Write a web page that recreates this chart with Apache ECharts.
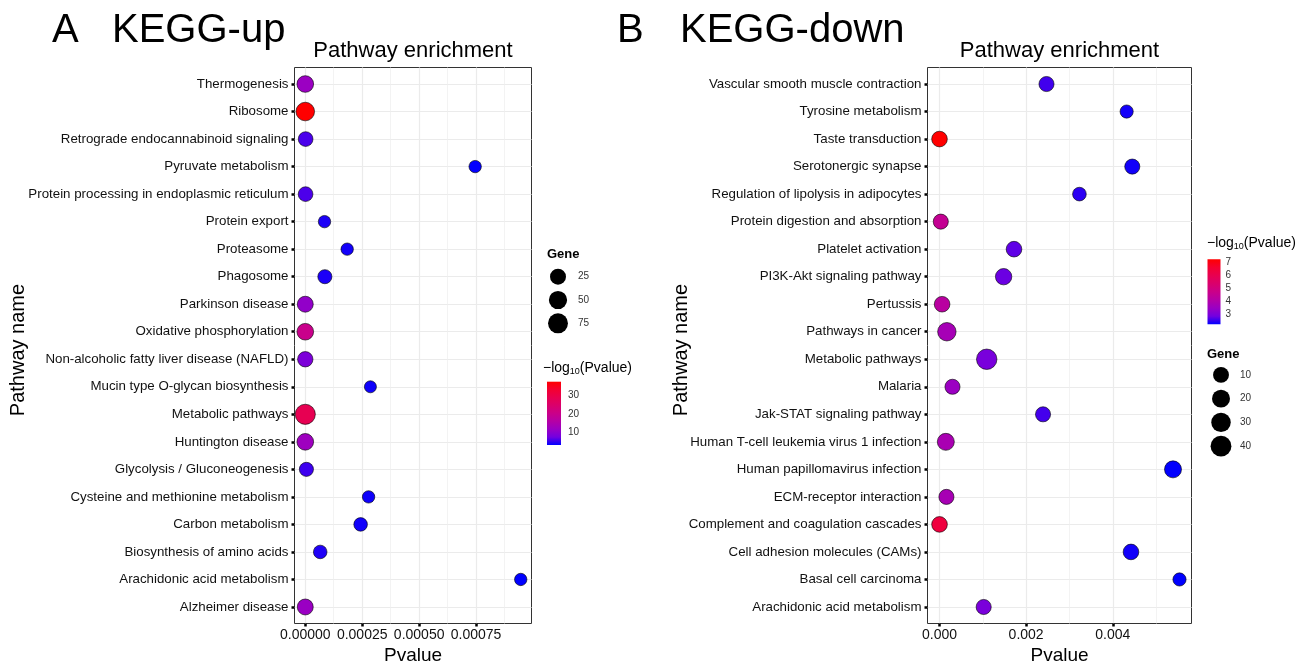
<!DOCTYPE html>
<html><head><meta charset="utf-8">
<script src="https://cdn.jsdelivr.net/npm/echarts@6/dist/echarts.min.js"></script>
<style>html,body{margin:0;padding:0;background:#fff}#c{width:1305px;height:664px}</style>
</head><body><div id="c"></div><script>
// ---------- data ----------
const upPathways = ['Thermogenesis','Ribosome','Retrograde endocannabinoid signaling','Pyruvate metabolism','Protein processing in endoplasmic reticulum','Protein export','Proteasome','Phagosome','Parkinson disease','Oxidative phosphorylation','Non-alcoholic fatty liver disease (NAFLD)','Mucin type O-glycan biosynthesis','Metabolic pathways','Huntington disease','Glycolysis / Gluconeogenesis','Cysteine and methionine metabolism','Carbon metabolism','Biosynthesis of amino acids','Arachidonic acid metabolism','Alzheimer disease'];
const upPvalue = [1.6e-12, 3.2e-38, 1.6e-6, 0.000746, 1.3e-6, 0.0000845, 0.000184, 0.000086, 1.6e-11, 1e-20, 5e-9, 0.000286, 3.2e-29, 6e-13, 5e-6, 0.000278, 0.000243, 0.0000656, 0.000946, 2.5e-12];
const upGene = [32, 55, 15, 3, 15, 3, 3, 11, 25, 32, 20, 2, 78, 32, 11, 3, 8, 8, 3, 25];

const downPathways = ['Vascular smooth muscle contraction','Tyrosine metabolism','Taste transduction','Serotonergic synapse','Regulation of lipolysis in adipocytes','Protein digestion and absorption','Platelet activation','PI3K-Akt signaling pathway','Pertussis','Pathways in cancer','Metabolic pathways','Malaria','Jak-STAT signaling pathway','Human T-cell leukemia virus 1 infection','Human papillomavirus infection','ECM-receptor interaction','Complement and coagulation cascades','Cell adhesion molecules (CAMs)','Basal cell carcinoma','Arachidonic acid metabolism'];
const downPvalue = [0.00247, 0.00432, 6.3e-8, 0.00445, 0.00323, 0.00003, 0.00172, 0.00148, 0.00006, 0.00017, 0.00109, 0.0003, 0.00239, 0.000146, 0.00539, 0.00016, 5e-7, 0.00442, 0.00554, 0.00102];
const downGene = [7, 2, 9, 7, 3, 7, 9, 12, 9, 23, 37, 7, 7, 15, 15, 7, 9, 9, 2, 7];

const upXTicks = [0, 0.00025, 0.0005, 0.00075];
const upXTickLabels = ['0.00000', '0.00025', '0.00050', '0.00075'];
const upXMinor = [0.000125, 0.000375, 0.000625, 0.000875];
const downXTicks = [0, 0.002, 0.004];
const downXTickLabels = ['0.000', '0.002', '0.004'];
const downXMinor = [0.001, 0.003, 0.005];
const upGeneLegend = [25, 50, 75];
const downGeneLegend = [10, 20, 30, 40];
const upColorTicks = [10, 20, 30];
const downColorTicks = [3, 4, 5, 6, 7];

// ---------- styling helpers ----------
const FONT = 'Liberation Sans';
const colorStops = ['#0000FF','#7300E0','#9A00C3','#B500A5','#CA0089','#DA006C','#E80050','#F40031','#FF0000'];
const sizeUp = g => 10.5 + 1.09 * Math.sqrt(g);
const sizeDown = g => 11 + 1.55 * Math.sqrt(g);
const nlp = p => -Math.log10(p);

function xRange(vals) {
  const mn = Math.min(...vals), mx = Math.max(...vals), s = mx - mn;
  return [mn - 0.05 * s, mx + 0.05 * s];
}
function nearestLabel(ticks, labels, v) {
  let bi = 0, bd = Infinity;
  ticks.forEach((t, i) => { const d = Math.abs(t - v); if (d < bd) { bd = d; bi = i; } });
  return labels[bi];
}
const upLog = upPvalue.map(nlp), downLog = downPvalue.map(nlp);
const upCMin = Math.min(...upLog), upCMax = Math.max(...upLog);
const downCMin = Math.min(...downLog), downCMax = Math.max(...downLog);
const upX = xRange(upPvalue), downX = xRange(downPvalue);

const gridLine = { show: true, lineStyle: { color: '#EBEBEB', width: 1.2 } };
const minorLine = { show: true, lineStyle: { color: '#EEEEEE', width: 0.7 } };
const tickStyle = { color: '#000', width: 2.5 };
const noLine = { show: false, onZero: false };

function mainX(grid, rng, ticks, labels) {
  return { gridIndex: grid, type: 'value', min: rng[0], max: rng[1], position: 'bottom',
    axisLine: noLine,
    axisTick: { show: true, length: 3, lineStyle: tickStyle, customValues: ticks },
    axisLabel: { customValues: ticks, formatter: v => nearestLabel(ticks, labels, v), fontSize: 14, color: '#111', margin: 5, fontFamily: FONT },
    splitLine: gridLine,
    name: 'Pvalue', nameLocation: 'middle', nameGap: 23, nameMoveOverlap: false,
    nameTextStyle: { fontSize: 19, color: '#000', fontFamily: FONT } };
}
function minorX(grid, rng, minor) {
  return { gridIndex: grid, type: 'value', min: rng[0], max: rng[1], position: 'top',
    axisLine: noLine, axisTick: { show: false, customValues: minor },
    axisLabel: { show: false }, splitLine: minorLine };
}
function mainY(grid, names) {
  const idx = names.map((_, i) => i + 1);
  return { gridIndex: grid, type: 'value', min: 0.4, max: names.length + 0.6, inverse: true, position: 'left',
    axisLine: noLine,
    axisTick: { show: true, length: 3, lineStyle: tickStyle, customValues: idx },
    axisLabel: { customValues: idx, formatter: v => names[Math.round(v) - 1], fontSize: 13.3, color: '#111', margin: 6, fontFamily: FONT },
    splitLine: gridLine };
}
function hiddenCat(grid, data) {
  return { gridIndex: grid, type: 'category', data: data, show: false };
}
function cbAxis(grid, mn, mx, ticks, pos, showLabel, margin) {
  return { gridIndex: grid, type: 'value', min: mn, max: mx, position: pos,
    axisLine: noLine, splitLine: { show: false },
    axisTick: { show: true, inside: true, length: 2.5, lineStyle: { color: '#fff', width: 1 }, customValues: ticks },
    axisLabel: { show: showLabel, customValues: ticks, fontSize: 10, color: '#333', margin: margin, fontFamily: FONT } };
}
function sizeLegendY(grid, vals, margin) {
  return { gridIndex: grid, type: 'category', data: vals.map(String), inverse: true, position: 'right',
    axisLine: noLine, axisTick: { show: false }, splitLine: { show: false },
    axisLabel: { fontSize: 10, color: '#333', margin: margin, fontFamily: FONT } };
}
function gradient() {
  const n = colorStops.length - 1;
  return { type: 'linear', x: 0, y: 0, x2: 0, y2: 1,
    colorStops: colorStops.slice().reverse().map((c, i) => ({ offset: i / n, color: c })) };
}
function g(o) { return Object.assign({ outerBoundsMode: 'none', containLabel: false }, o); }
function txt(x, y, text, font, extra) {
  return { type: 'text', x: x, y: y, style: Object.assign({ text: text, font: font, fill: '#000', verticalAlign: 'middle' }, extra || {}) };
}
const cbTitleRich = { a: { fontSize: 14, lineHeight: 16, fontFamily: FONT }, s: { fontSize: 9, lineHeight: 8, verticalAlign: 'bottom', fontFamily: FONT } };

const option = {
  animation: false,
  textStyle: { fontFamily: FONT },
  grid: [
    g({ left: 294.5, top: 67.5, width: 237, height: 556, show: true, borderColor: '#333', borderWidth: 1 }),
    g({ left: 927.5, top: 67.5, width: 264, height: 556, show: true, borderColor: '#333', borderWidth: 1 }),
    g({ left: 549, top: 265, width: 18, height: 70 }),
    g({ left: 547, top: 381.7, width: 14, height: 63.3 }),
    g({ left: 1207.5, top: 259.3, width: 13, height: 65 }),
    g({ left: 1212, top: 363, width: 18, height: 95 })
  ],
  xAxis: [
    mainX(0, upX, upXTicks, upXTickLabels),
    minorX(0, upX, upXMinor),
    mainX(1, downX, downXTicks, downXTickLabels),
    minorX(1, downX, downXMinor),
    hiddenCat(2, ['k']),
    hiddenCat(3, ['c']),
    hiddenCat(4, ['c']),
    hiddenCat(5, ['k'])
  ],
  yAxis: [
    mainY(0, upPathways),
    mainY(1, downPathways),
    sizeLegendY(2, upGeneLegend, 11),
    cbAxis(3, upCMin, upCMax, upColorTicks, 'left', false, 6),
    cbAxis(3, upCMin, upCMax, upColorTicks, 'right', true, 7),
    cbAxis(4, downCMin, downCMax, downColorTicks, 'left', false, 5),
    cbAxis(4, downCMin, downCMax, downColorTicks, 'right', true, 5),
    sizeLegendY(5, downGeneLegend, 10)
  ],
  visualMap: [
    { type: 'continuous', show: false, seriesIndex: 0, dimension: 2, min: upCMin, max: upCMax, inRange: { color: colorStops } },
    { type: 'continuous', show: false, seriesIndex: 1, dimension: 2, min: downCMin, max: downCMax, inRange: { color: colorStops } }
  ],
  series: [
    { type: 'scatter', xAxisIndex: 0, yAxisIndex: 0,
      data: upPathways.map((n, i) => [upPvalue[i], i + 1, upLog[i], upGene[i], n]),
      symbolSize: d => sizeUp(d[3]),
      itemStyle: { borderColor: '#000', borderWidth: 0.6, opacity: 1 } },
    { type: 'scatter', xAxisIndex: 2, yAxisIndex: 1,
      data: downPathways.map((n, i) => [downPvalue[i], i + 1, downLog[i], downGene[i], n]),
      symbolSize: d => sizeDown(d[3]),
      itemStyle: { borderColor: '#000', borderWidth: 0.6, opacity: 1 } },
    { type: 'scatter', xAxisIndex: 4, yAxisIndex: 2,
      data: upGeneLegend.map(v => ['k', String(v), v]),
      symbolSize: d => sizeUp(d[2]), itemStyle: { color: '#000', opacity: 1 } },
    { type: 'bar', xAxisIndex: 5, yAxisIndex: 3, stack: 'cbu', barWidth: '100%',
      data: [upCMin], itemStyle: { color: 'rgba(0,0,0,0)' } },
    { type: 'bar', xAxisIndex: 5, yAxisIndex: 3, stack: 'cbu', barWidth: '100%',
      data: [upCMax - upCMin], itemStyle: { color: gradient() } },
    { type: 'bar', xAxisIndex: 6, yAxisIndex: 5, stack: 'cbd', barWidth: '100%',
      data: [downCMin], itemStyle: { color: 'rgba(0,0,0,0)' } },
    { type: 'bar', xAxisIndex: 6, yAxisIndex: 5, stack: 'cbd', barWidth: '100%',
      data: [downCMax - downCMin], itemStyle: { color: gradient() } },
    { type: 'scatter', xAxisIndex: 7, yAxisIndex: 7,
      data: downGeneLegend.map(v => ['k', String(v), v]),
      symbolSize: d => sizeDown(d[2]), itemStyle: { color: '#000', opacity: 1 } }
  ],
  graphic: [
    txt(52, 31, 'A', '40px "Liberation Sans"'),
    txt(112, 31, 'KEGG-up', '40px "Liberation Sans"'),
    txt(617, 31, 'B', '40px "Liberation Sans"'),
    txt(680, 31, 'KEGG-down', '40px "Liberation Sans"'),
    txt(413, 51, 'Pathway enrichment', '22px "Liberation Sans"', { align: 'center' }),
    txt(1059.5, 51, 'Pathway enrichment', '22px "Liberation Sans"', { align: 'center' }),
    Object.assign(txt(18, 350, 'Pathway name', '20px "Liberation Sans"', { align: 'center' }), { rotation: Math.PI / 2 }),
    Object.assign(txt(681, 350, 'Pathway name', '20px "Liberation Sans"', { align: 'center' }), { rotation: Math.PI / 2 }),
    txt(547, 254, 'Gene', 'bold 13px "Liberation Sans"'),
    txt(1207, 354, 'Gene', 'bold 13px "Liberation Sans"'),
    txt(543, 368, '{a|\u2212log}{s|10}{a|(Pvalue)}', null, { rich: cbTitleRich }),
    txt(1207, 243, '{a|\u2212log}{s|10}{a|(Pvalue)}', null, { rich: cbTitleRich })
  ]
};
option.graphic.forEach(e => { if (e.style.font === null) delete e.style.font; });
const chart = echarts.init(document.getElementById('c'), null, { renderer: 'canvas' });
chart.setOption(option);
</script></body></html>
